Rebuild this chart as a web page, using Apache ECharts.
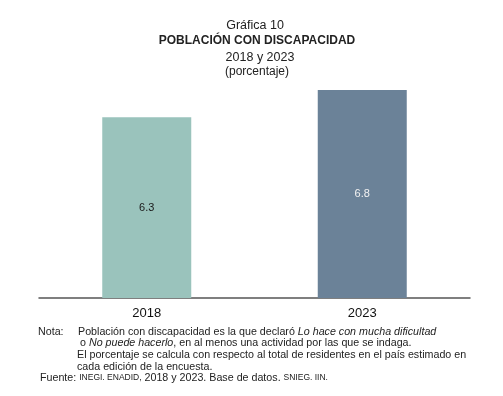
<!DOCTYPE html>
<html>
<head>
<meta charset="utf-8">
<script src="https://cdn.jsdelivr.net/npm/echarts@6/dist/echarts.min.js"></script>
<style>
  html, body { margin: 0; padding: 0; background: #fff; }
  #chart { width: 503px; height: 396px; }
</style>
</head>
<body>
<div id="chart"></div>
<script>
const years = ["2018", "2023"];
const values = [6.3, 6.8];
const barColors = ["#9AC3BC", "#6B8298"];
const labelColors = ["#1a1a1a", "#f2f2f2"];

const font = "Arial, 'Liberation Sans', sans-serif";

// centred heading lines
function head(text, x, y, f) {
  return {
    type: "text", x: x, y: y,
    style: { text: text, font: f, fill: "#222", align: "center", verticalAlign: "middle" },
  };
}
// left-aligned note lines
function note(text, x, y, rich) {
  return {
    type: "text", x: x, y: y,
    style: { text: text, font: "10.7px " + font, fill: "#222", verticalAlign: "middle", rich: rich || {} },
  };
}
const ital = { i: { fontStyle: "italic", fontSize: 10.7, fontFamily: font, fill: "#222" } };
const small = { s: { fontSize: 8.5, fontFamily: font, fill: "#222" } };

const chart = echarts.init(document.getElementById("chart"));

chart.setOption({
  backgroundColor: "#fff",
  animation: false,
  grid: {
    left: 39,
    right: 33,
    top: 79,
    bottom: 98,
    containLabel: false,
  },
  xAxis: {
    type: "category",
    data: years,
    axisTick: { show: false },
    axisLine: { lineStyle: { color: "#555", width: 1.5 } },
    axisLabel: {
      color: "#111",
      fontSize: 13,
      fontFamily: font,
      margin: 9,
    },
  },
  yAxis: {
    type: "value",
    min: 3,
    max: 7,
    show: false,
    splitLine: { show: false },
  },
  series: [
    {
      type: "bar",
      barWidth: 89,
      data: values.map((v, i) => ({
        value: v,
        itemStyle: { color: barColors[i] },
        label: { color: labelColors[i] },
      })),
      label: {
        show: true,
        position: "inside",
        fontSize: 11,
        fontFamily: font,
        formatter: (p) => p.value.toFixed(1),
      },
    },
  ],
  graphic: [
    head("Gráfica 10", 255, 26, "12.5px " + font),
    head("POBLACIÓN CON DISCAPACIDAD", 257, 40.5, "bold 12px " + font),
    head("2018 y 2023", 260, 58, "12.5px " + font),
    head("(porcentaje)", 257, 72, "12px " + font),
    note("Nota:", 38, 332),
    note("Población con discapacidad es la que declaró {i|Lo hace con mucha dificultad}", 78, 332, ital),
    note("o {i|No puede hacerlo}, en al menos una actividad por las que se indaga.", 80, 343, ital),
    note("El porcentaje se calcula con respecto al total de residentes en el país estimado en", 77, 355),
    note("cada edición de la encuesta.", 77, 367),
    note("Fuente: {s|INEGI. ENADID,} 2018 y 2023. Base de datos. {s|SNIEG. IIN.}", 40, 378, small),
  ],
});
</script>
</body>
</html>
